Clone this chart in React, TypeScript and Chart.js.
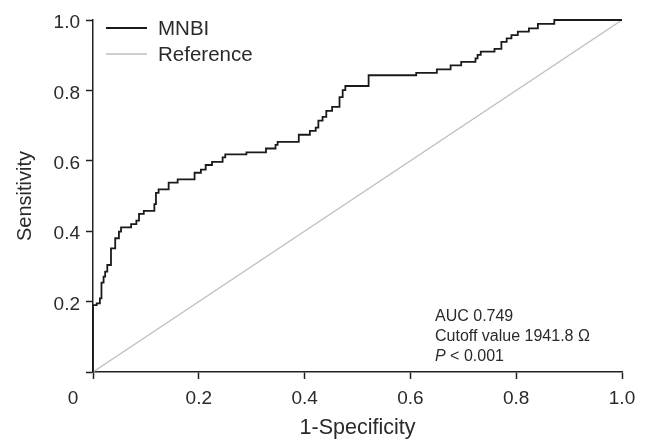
import React, { useEffect, useRef } from 'react';
import { Chart, registerables } from 'chart.js';

Chart.register(...registerables);

const FONT = '"Liberation Sans", Arial, Helvetica, sans-serif';
const TEXT_COLOR = '#2a2a2a';

const seriesLabels = ['MNBI', 'Reference'];

// ROC vertices (1-specificity, sensitivity)
const mnbiFpr = [
  0, 0, 0.007, 0.013, 0.016, 0.02, 0.023, 0.027, 0.034, 0.042, 0.049, 0.053,
  0.072, 0.082, 0.087, 0.096, 0.116, 0.119, 0.124, 0.143, 0.16, 0.192, 0.204,
  0.213, 0.225, 0.245, 0.25, 0.29, 0.327, 0.345, 0.349, 0.389, 0.41, 0.421,
  0.426, 0.434, 0.441, 0.452, 0.466, 0.472, 0.477, 0.521, 0.611, 0.65, 0.676,
  0.696, 0.723, 0.727, 0.733, 0.759, 0.772, 0.782, 0.791, 0.803, 0.824, 0.841,
  0.872, 1.0,
];
const mnbiTpr = [
  0, 0.19, 0.195, 0.209, 0.254, 0.271, 0.285, 0.304, 0.351, 0.38, 0.399, 0.411,
  0.42, 0.43, 0.449, 0.458, 0.477, 0.509, 0.519, 0.538, 0.547, 0.566, 0.575,
  0.588, 0.597, 0.61, 0.618, 0.624, 0.635, 0.645, 0.654, 0.674, 0.685, 0.694,
  0.714, 0.725, 0.742, 0.753, 0.781, 0.801, 0.8125, 0.843, 0.85, 0.86, 0.871,
  0.881, 0.891, 0.901, 0.91, 0.918, 0.938, 0.948, 0.957, 0.967, 0.976, 0.989,
  1.0, 1.0,
];
const refFpr = [0, 1];
const refTpr = [0, 1];

const tickValues = [0, 0.2, 0.4, 0.6, 0.8, 1.0];
const tickLabels = ['0', '0.2', '0.4', '0.6', '0.8', '1.0'];

const xTitle = '1-Specificity';
const yTitle = 'Sensitivity';
const annotationLines = ['AUC 0.749', 'Cutoff value 1941.8 \u03a9'];
const pValueParts = ['P', ' < 0.001'];

const labelFor = (v: number) => {
  const i = tickValues.findIndex((t) => Math.abs(t - v) < 1e-6);
  if (i <= 0) return '';
  return tickLabels[i];
};

const overlayPlugin = {
  id: 'overlay',
  afterDraw(chart: any) {
    const { ctx, chartArea, scales } = chart;
    ctx.save();
    // legend
    chart.data.datasets.forEach((ds: any, i: number) => {
      const y = chartArea.top + 8 + i * 26;
      ctx.strokeStyle = ds.borderColor;
      ctx.lineWidth = ds.borderWidth;
      ctx.beginPath();
      ctx.moveTo(chartArea.left + 13, y);
      ctx.lineTo(chartArea.left + 54, y);
      ctx.stroke();
      ctx.fillStyle = TEXT_COLOR;
      ctx.font = `20.5px ${FONT}`;
      ctx.textAlign = 'left';
      ctx.textBaseline = 'middle';
      ctx.fillText(ds.label, chartArea.left + 65, y + 1);
    });
    // annotation
    const ax = chartArea.left + 342;
    ctx.font = `16px ${FONT}`;
    ctx.fillStyle = TEXT_COLOR;
    ctx.textAlign = 'left';
    ctx.textBaseline = 'middle';
    annotationLines.forEach((t, i) => {
      ctx.fillText(t, ax, chartArea.bottom - 55 + i * 20);
    });
    const py = chartArea.bottom - 15;
    ctx.font = `italic 16px ${FONT}`;
    ctx.fillText(pValueParts[0], ax, py);
    const w = ctx.measureText(pValueParts[0]).width;
    ctx.font = `16px ${FONT}`;
    ctx.fillText(pValueParts[1], ax + w, py);
    // shared corner "0"
    ctx.font = `19px ${FONT}`;
    ctx.textAlign = 'center';
    ctx.textBaseline = 'middle';
    ctx.fillText(tickLabels[0], scales.x.left - 20, chartArea.bottom + 27);
    ctx.restore();
  },
};

export default function App() {
  const ref = useRef<HTMLCanvasElement | null>(null);
  useEffect(() => {
    if (!ref.current) return;
    const chart = new Chart(ref.current, {
      type: 'line',
      data: {
        datasets: [
          {
            label: seriesLabels[0],
            data: mnbiFpr.map((x, i) => ({ x, y: mnbiTpr[i] })),
            borderColor: '#1a1a1a',
            borderWidth: 1.8,
            stepped: 'before',
            pointRadius: 0,
            fill: false,
            clip: false,
          },
          {
            label: seriesLabels[1],
            data: refFpr.map((x, i) => ({ x, y: refTpr[i] })),
            borderColor: '#bfbfbf',
            borderWidth: 1.5,
            pointRadius: 0,
            fill: false,
            clip: false,
          },
        ],
      },
      options: {
        animation: false,
        responsive: true,
        maintainAspectRatio: false,
        layout: { padding: { top: 20, right: 26, left: 0, bottom: 0 } },
        plugins: { legend: { display: false }, tooltip: { enabled: false } },
        scales: {
          x: {
            type: 'linear',
            min: 0,
            max: 1,
            afterFit: (s: any) => {
              s.height = 70;
            },
            afterBuildTicks: (s: any) => {
              s.ticks = tickValues.map((v) => ({ value: v }));
            },
            ticks: {
              callback: (v: any) => labelFor(Number(v)),
              color: TEXT_COLOR,
              font: { family: FONT, size: 19 },
              padding: 8,
              maxRotation: 0,
            },
            grid: {
              drawOnChartArea: false,
              drawTicks: true,
              tickLength: 7,
              tickWidth: 1.5,
              tickColor: '#222',
            },
            border: { display: true, color: '#222', width: 1.5 },
            title: {
              display: true,
              text: xTitle,
              color: TEXT_COLOR,
              font: { family: FONT, size: 21.5 },
              padding: { top: 0, bottom: 1 },
            },
          },
          y: {
            type: 'linear',
            min: 0,
            max: 1,
            afterFit: (s: any) => {
              s.width = 93;
            },
            afterBuildTicks: (s: any) => {
              s.ticks = tickValues.map((v) => ({ value: v }));
            },
            ticks: {
              callback: (v: any) => labelFor(Number(v)),
              color: TEXT_COLOR,
              font: { family: FONT, size: 19 },
              padding: 6,
              labelOffset: 3,
            },
            grid: {
              drawOnChartArea: false,
              drawTicks: true,
              tickLength: 7,
              tickWidth: 1.5,
              tickColor: '#222',
            },
            border: { display: true, color: '#222', width: 1.5 },
            title: {
              display: true,
              text: yTitle,
              color: TEXT_COLOR,
              font: { family: FONT, size: 20 },
              padding: { top: 13, bottom: 0 },
            },
          },
        },
      },
      plugins: [overlayPlugin],
    } as any);
    return () => chart.destroy();
  }, []);
  return (
    <div style={{ position: 'fixed', left: 0, top: 0, width: 648, height: 442, background: '#fff' }}>
      <canvas ref={ref} />
    </div>
  );
}
